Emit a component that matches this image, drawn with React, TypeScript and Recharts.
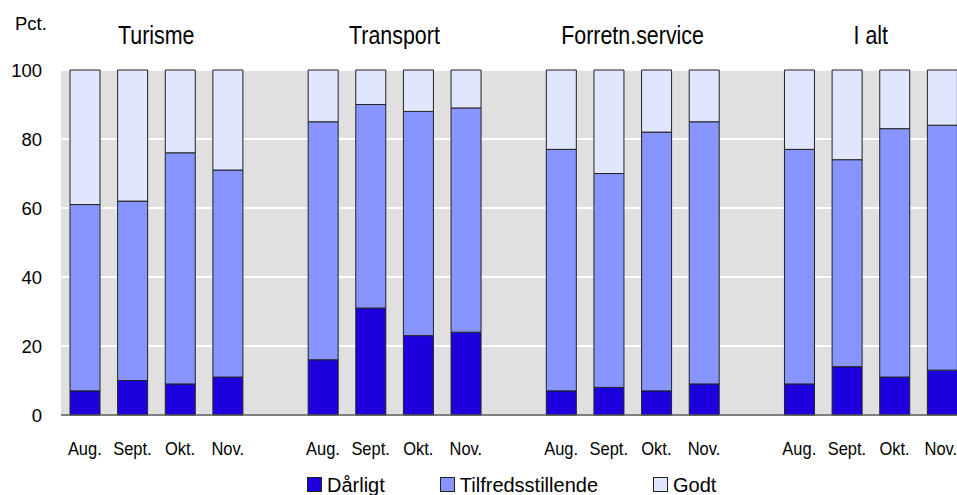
import { BarChart, Bar, XAxis, YAxis, CartesianGrid } from 'recharts'

const GROUPS = ['Turisme', 'Transport', 'Forretn.service', 'I alt']
const MONTHS = ['Aug.', 'Sept.', 'Okt.', 'Nov.']

// Pct. per group, per month (Aug., Sept., Okt., Nov.)
const DARLIGT = [
  [7, 10, 9, 11],
  [16, 31, 23, 24],
  [7, 8, 7, 9],
  [9, 14, 11, 13],
]
const TILFREDS = [
  [54, 52, 67, 60],
  [69, 59, 65, 65],
  [70, 62, 75, 76],
  [68, 60, 72, 71],
]
const GODT = [
  [39, 38, 24, 29],
  [15, 10, 12, 11],
  [23, 30, 18, 15],
  [23, 26, 17, 16],
]
const Y_TICKS = [0, 20, 40, 60, 80, 100]

const COLORS = { darligt: '#1c00de', tilfreds: '#8894ff', godt: '#dfe6fd' }
const FONT = '"Liberation Sans", Arial, sans-serif'

const CHART_W = 975
const CHART_H = 500
const MARGIN = { top: 40, right: 9, bottom: 55, left: 0 }
const Y_W = 61
const BAR_W = 30

type Row = {
  key: string
  month: string
  title: string
  darligt?: number
  tilfreds?: number
  godt?: number
}

const rows: Row[] = []
GROUPS.forEach((g, gi) => {
  MONTHS.forEach((m, mi) => {
    rows.push({
      key: `${g}-${m}`,
      month: m,
      title: mi === 1 ? g : '',
      darligt: DARLIGT[gi][mi],
      tilfreds: TILFREDS[gi][mi],
      godt: GODT[gi][mi],
    })
  })
  if (gi < GROUPS.length - 1) rows.push({ key: `gap-${gi}`, month: '', title: '' })
})

const SLOT = (CHART_W - MARGIN.left - MARGIN.right - Y_W) / rows.length

// the source chart uses narrow, tall lettering, so squeeze the text a bit
function GroupTitle(props: any) {
  const { x, y, index } = props
  const row = rows[index]
  if (!row || !row.title) return <g />
  return (
    <text
      transform={`translate(${x + SLOT / 2},${y}) scale(0.84,1)`}
      textAnchor="middle"
      fontSize={25.5}
      fontFamily={FONT}
      fill="#000"
    >
      {row.title}
    </text>
  )
}

function MonthTick(props: any) {
  const { x, y, index } = props
  const row = rows[index]
  if (!row || !row.month) return <g />
  // last label sits at the page edge: keep it flush with its bar instead
  const last = index === rows.length - 1
  return (
    <text
      transform={`translate(${last ? x + BAR_W / 2 : x},${y}) scale(0.89,1)`}
      textAnchor={last ? 'end' : 'middle'}
      dy="0.71em"
      fontSize={18.5}
      fontFamily={FONT}
      fill="#000"
    >
      {row.month}
    </text>
  )
}

const LEGEND = [
  { label: 'Dårligt', color: COLORS.darligt },
  { label: 'Tilfredsstillende', color: COLORS.tilfreds },
  { label: 'Godt', color: COLORS.godt },
]

export default function App() {
  return (
    <div
      style={{
        position: 'absolute',
        left: 0,
        top: 0,
        width: 957,
        height: 495,
        overflow: 'hidden',
        background: '#fff',
        fontFamily: FONT,
      }}
    >
      <div style={{ position: 'absolute', left: 15, top: 15, fontSize: 18.5, lineHeight: '18px' }}>Pct.</div>
      <BarChart width={CHART_W} height={CHART_H} data={rows} margin={MARGIN} barSize={BAR_W}>
        <CartesianGrid vertical={false} fill="#e0e0e0" stroke="#ffffff" strokeWidth={2} />
        <XAxis
          xAxisId="top"
          orientation="top"
          dataKey="key"
          height={30}
          interval={0}
          axisLine={false}
          tickLine={false}
          tickSize={0}
          tickMargin={26}
          tick={<GroupTitle />}
        />
        <XAxis
          dataKey="key"
          height={30}
          interval={0}
          tickLine={false}
          tickSize={0}
          tickMargin={27}
          axisLine={{ stroke: '#555', strokeWidth: 1.5 }}
          tick={<MonthTick />}
        />
        <YAxis
          width={Y_W}
          domain={[0, 100]}
          ticks={Y_TICKS}
          axisLine={false}
          tickLine={false}
          tickSize={0}
          tickMargin={19}
          tick={{ fontSize: 18.5, fill: '#000', fontFamily: FONT }}
        />
        <Bar dataKey="darligt" stackId="a" fill={COLORS.darligt} stroke="#222" strokeWidth={1} isAnimationActive={false} />
        <Bar dataKey="tilfreds" stackId="a" fill={COLORS.tilfreds} stroke="#222" strokeWidth={1} isAnimationActive={false} />
        <Bar dataKey="godt" stackId="a" fill={COLORS.godt} stroke="#222" strokeWidth={1} isAnimationActive={false} />
      </BarChart>
      <div
        style={{
          position: 'absolute',
          left: 307,
          top: 475,
          display: 'flex',
          alignItems: 'baseline',
          gap: 55,
          fontSize: 20,
          lineHeight: '20px',
        }}
      >
        {LEGEND.map((l) => (
          <div key={l.label} style={{ display: 'flex', alignItems: 'baseline', gap: 5 }}>
            <div style={{ width: 13, height: 13, background: l.color, border: '1px solid #222' }} />
            <span>{l.label}</span>
          </div>
        ))}
      </div>
    </div>
  )
}
